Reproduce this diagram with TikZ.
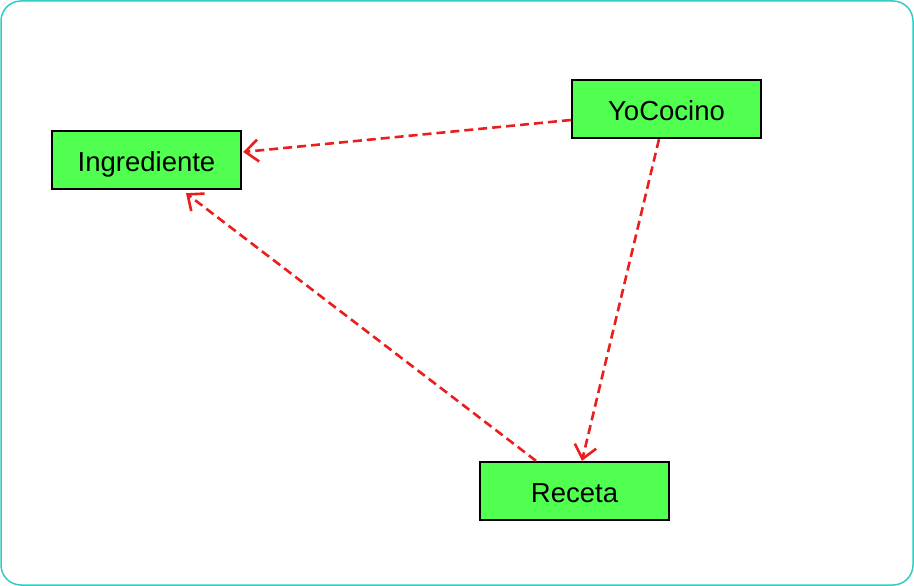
\documentclass[tikz,border=0pt]{standalone}
\usepackage{fontspec}
\setmainfont{Liberation Sans}
\usetikzlibrary{arrows.meta}
\definecolor{frame}{RGB}{48,206,194}
\definecolor{boxgreen}{RGB}{80,255,80}
\definecolor{dep}{RGB}{235,30,30}
\begin{document}
\begin{tikzpicture}[x=1pt,y=-1pt,
  cls/.style={draw=black, line width=2.4pt, fill=boxgreen, minimum width=189pt, minimum height=58pt, inner sep=0pt, text height=23pt, text depth=0pt, font=\fontsize{27.5}{32}\selectfont},
  depline/.style={draw=dep, line width=2.6pt, dash pattern=on 9pt off 5pt, -{Straight Barb[length=13pt,width=22pt,line width=2.6pt]}}]
\useasboundingbox (0,0) rectangle (914,586);
\draw[frame, line width=1.5pt, rounded corners=20pt] (1,1) rectangle (913,585);
\node[cls] (ing) at (146.5,160) {Ingrediente};
\node[cls] (yo) at (666.5,109) {YoCocino};
\node[cls] (rec) at (574.5,491) {Receta};
\draw[depline] ([yshift=-11pt]yo.west) -- ([xshift=1pt,yshift=8pt]ing.east);
\draw[depline] ([xshift=-7.5pt]yo.south) -- ([xshift=7.5pt]rec.north);
\draw[depline] ([xshift=-38.5pt]rec.north) -- ([xshift=39.5pt,yshift=-3pt]ing.south);
\end{tikzpicture}
\end{document}
